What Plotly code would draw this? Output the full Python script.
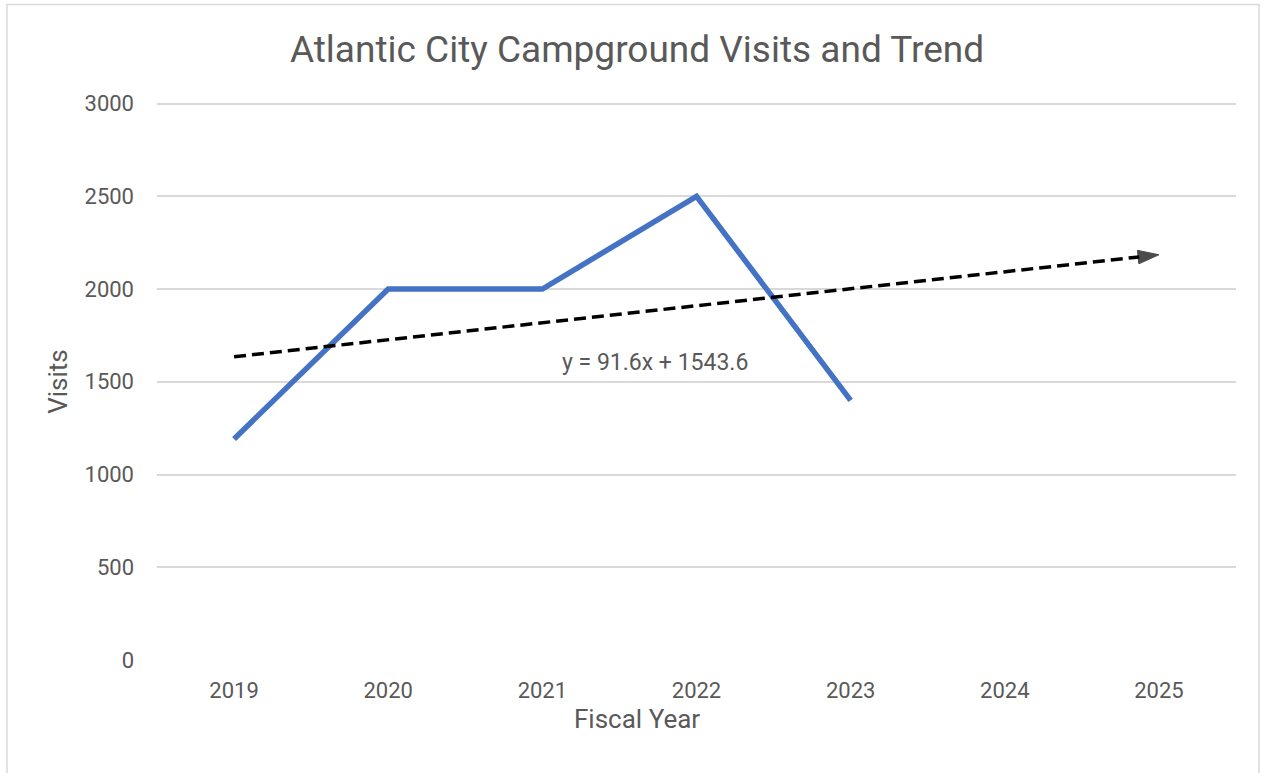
import plotly.graph_objects as go

# Data
years = [2019, 2020, 2021, 2022, 2023]
visits = [1192, 2000, 2000, 2500, 1400]
trend_years = [2019, 2020, 2021, 2022, 2023, 2024, 2025]
trend_slope = 91.6
trend_intercept = 1543.6
trend_label = "y = 91.6x + 1543.6"
tick_years = [2019, 2020, 2021, 2022, 2023, 2024, 2025]
y_ticks = [0, 500, 1000, 1500, 2000, 2500, 3000]

trend_values = [trend_slope * (i + 1) + trend_intercept for i in range(len(trend_years))]

W, H = 1267, 773
Y_MAX = 3030
L, R, B = 157, 31, 113
T = 104 - (Y_MAX - 3000) * 556 / 3000
pw = W - L - R
ph = H - T - B

def px_x(p):
    return (p - L) / pw

def px_y(p):
    return (H - B - p) / ph

FONT = "Roboto"
GRAY = "#595959"

fig = go.Figure()

fig.add_trace(go.Scatter(
    x=years, y=visits, mode="lines",
    line=dict(color="#4472C4", width=5.5),
    showlegend=False, hoverinfo="x+y",
))

fig.add_trace(go.Scatter(
    x=trend_years, y=trend_values, mode="lines+markers",
    line=dict(color="black", width=3.5, dash="12px,6px"),
    marker=dict(symbol="arrow", angleref="previous",
                size=[0] * (len(trend_years) - 1) + [22], color="black",
                line=dict(width=1, color="black")),
    showlegend=False, hoverinfo="skip",
))

fig.update_layout(
    width=W, height=H,
    margin=dict(l=L, r=R, t=T, b=B),
    paper_bgcolor="white", plot_bgcolor="white",
    font=dict(family=FONT, color=GRAY, size=22),
    title=dict(text="Atlantic City Campground Visits and Trend",
               x=637 / W, xanchor="center", y=1 - 49 / H, yanchor="middle",
               font=dict(family=FONT, size=37, color=GRAY)),
    xaxis=dict(range=[2018.5, 2025.5], tickvals=tick_years,
               ticktext=[str(t) for t in tick_years],
               showgrid=False, zeroline=False, showline=False,
               ticks="", ticklabelstandoff=15,
               tickfont=dict(family=FONT, size=22, color=GRAY)),
    yaxis=dict(range=[0, Y_MAX], tickvals=y_ticks,
               showgrid=True, gridcolor="#d9d9d9", gridwidth=1.5,
               zeroline=False, showline=False, ticks="",
               ticklabelstandoff=22,
               tickfont=dict(family=FONT, size=22, color=GRAY)),
    annotations=[
        dict(text="Visits", xref="paper", yref="paper",
             x=px_x(58), y=px_y(382), textangle=-90, showarrow=False,
             xanchor="center", yanchor="middle",
             font=dict(family=FONT, size=26, color=GRAY)),
        dict(text="Fiscal Year", xref="paper", yref="paper",
             x=px_x(637), y=px_y(719), showarrow=False,
             xanchor="center", yanchor="middle",
             font=dict(family=FONT, size=26, color=GRAY)),
        dict(text=trend_label, xref="paper", yref="paper",
             x=px_x(655), y=px_y(363), showarrow=False,
             xanchor="center", yanchor="middle",
             font=dict(family=FONT, size=23, color=GRAY)),
    ],
    shapes=[
        dict(type="rect", xref="paper", yref="paper",
             x0=px_x(7), x1=px_x(1259), y0=px_y(800), y1=px_y(5),
             line=dict(color="#d9d9d9", width=1.5), layer="below"),
    ],
)

fig.write_html("out.html",
               config={"displayModeBar": False},
               post_script="document.body.style.margin='0px';document.body.style.overflow='hidden';")
